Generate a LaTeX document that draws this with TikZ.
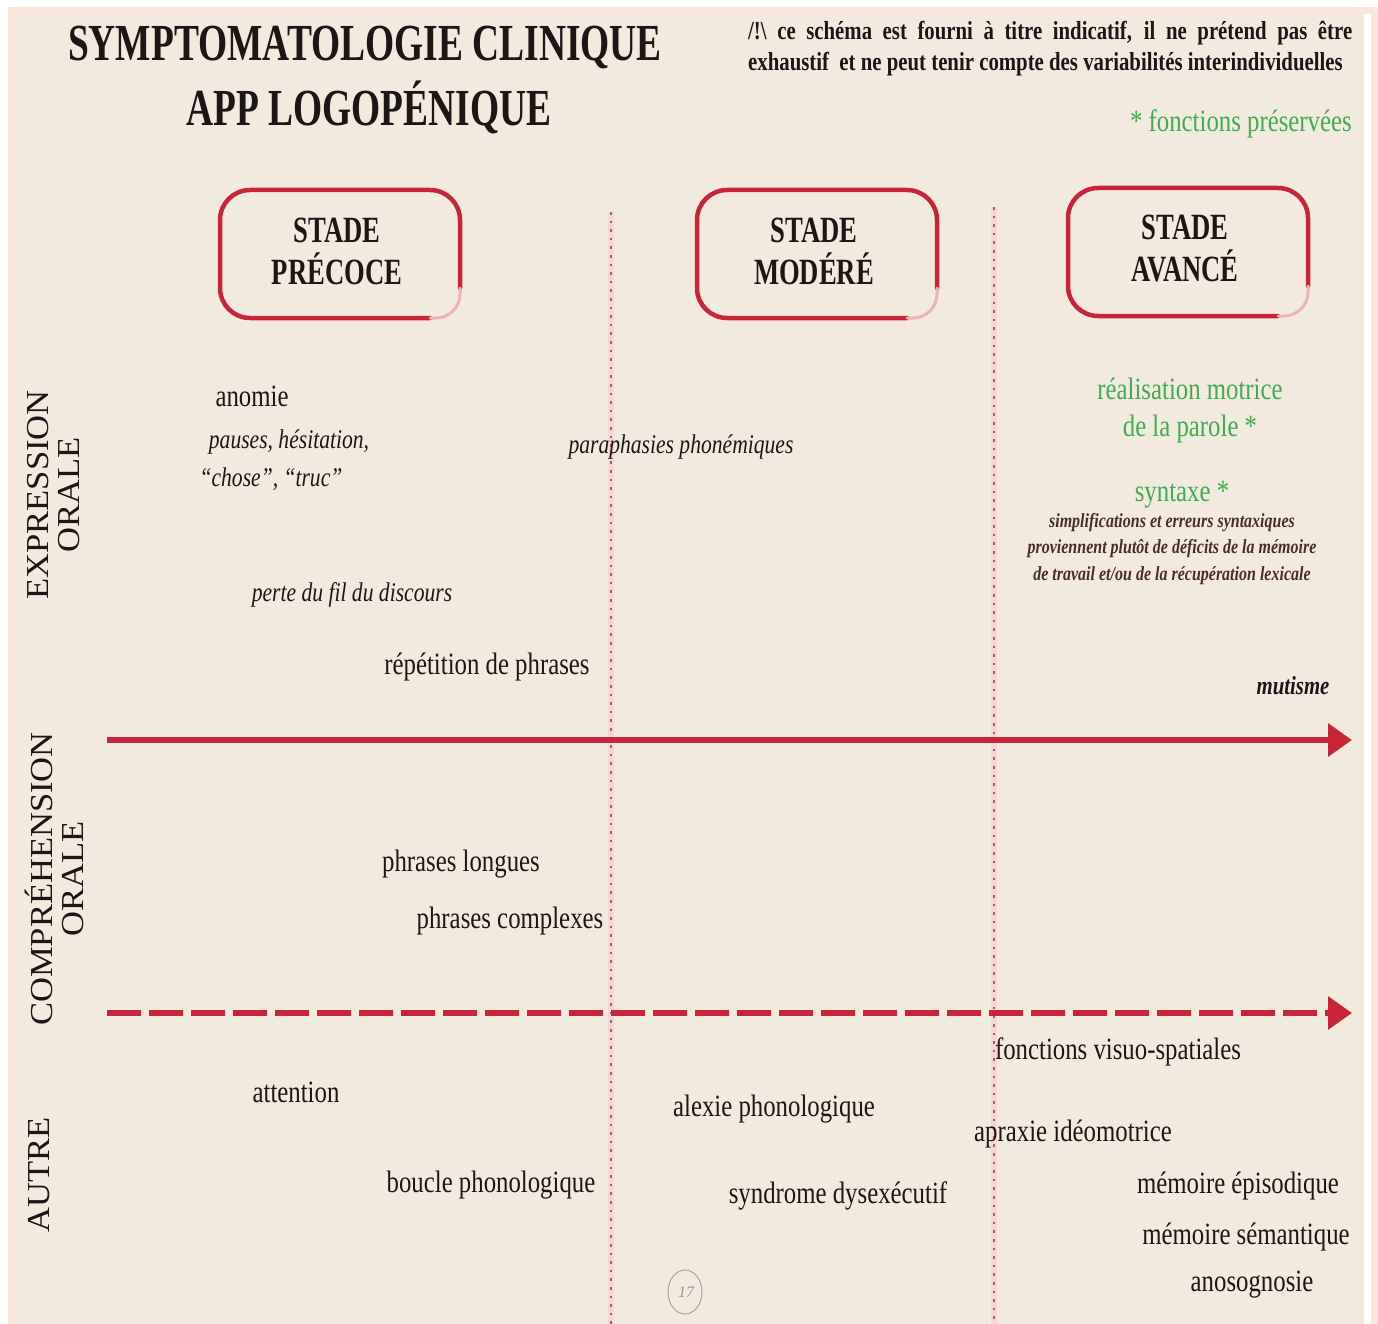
\documentclass[tikz,border=0pt]{standalone}
\usepackage{fontspec}
\setmainfont{Liberation Serif}
\newfontfamily\headfont{Liberation Serif}[FakeStretch=0.72]
\newfontfamily\bodyfont{Liberation Serif}[FakeStretch=0.8]
\newfontfamily\sidefont{Liberation Serif}[FakeStretch=1.08]
\usetikzlibrary{arrows.meta}

\definecolor{pagebeige}{RGB}{243,234,223}
\definecolor{edgepeach}{RGB}{252,230,219}
\definecolor{stagered}{RGB}{200,38,56}
\definecolor{ink}{RGB}{28,22,22}
\definecolor{keepgreen}{RGB}{64,172,82}
\definecolor{notebrown}{RGB}{72,46,32}
\definecolor{dotgrey}{RGB}{140,105,110}
\definecolor{dothalo}{RGB}{248,214,212}

\tikzset{
  lbl/.style={inner sep=0pt, text=ink},
  body/.style={lbl, font=\bodyfont\fontsize{31}{36}\selectfont},
  bodyit/.style={lbl, font=\bodyfont\itshape\fontsize{27}{36}\selectfont},
  keep/.style={lbl, text=keepgreen, font=\bodyfont\fontsize{31}{37}\selectfont, align=center},
  sidelbl/.style={lbl, rotate=90, align=center, font=\sidefont\fontsize{32}{31}\selectfont},
  stagetxt/.style={lbl, align=center, font=\headfont\bfseries\fontsize{37}{42}\selectfont},
  stagebox/.style={draw=stagered, line width=4.5pt, line cap=round, rounded corners=30pt},
  stagefade/.style={draw=stagered!35, line width=3pt, line cap=round, rounded corners=24pt},
  divider/.style={dotgrey, line width=2.6pt, dash pattern=on 2.6pt off 6pt},
  dividerhalo/.style={dothalo, line width=6pt},
  axis/.style={stagered, line width=6pt, -{Triangle[length=24pt,width=32pt]}},
}

\begin{document}
\begin{tikzpicture}[x=1pt,y=-1pt]
% page and frame
\fill[edgepeach] (0,0) rectangle (1378,1324);
\fill[white] (0,0) rectangle (1378,7);
\fill[white] (0,0) rectangle (8,1324);
\fill[white] (1364,14) rectangle (1371,1324);
\fill[pagebeige] (14,14) rectangle (1364,1324);
\useasboundingbox (0,0) rectangle (1378,1324);

% title and notes
\node[lbl, font=\headfont\bfseries\fontsize{52}{60}\selectfont] (title1) at (365,48) {SYMPTOMATOLOGIE CLINIQUE};
\node[lbl, font=\headfont\bfseries\fontsize{52}{60}\selectfont] (title2) at (369,107) {APP LOGOPÉNIQUE};
\node[lbl, anchor=west, font=\bodyfont\bfseries\fontsize{26}{30}\selectfont] (note1) at (748,33)
  {\makebox[604pt][s]{/!\textbackslash{} ce schéma est fourni à titre indicatif, il ne prétend pas être}};
\node[lbl, anchor=west, font=\bodyfont\bfseries\fontsize{26}{30}\selectfont] (note2) at (748,64)
  {exhaustif\ \ et ne peut tenir compte des variabilités interindividuelles};
\node[keep, anchor=east, font=\bodyfont\fontsize{31}{34}\selectfont] (legend) at (1352,124) {* fonctions préservées};

% stage boxes
\draw[stagebox] (430,318) -- (220,318) -- (220,190) -- (460,190) -- (460,288);
\draw[stagefade] (460,288) -- (460,318) -- (430,318);
\node[stagetxt] (s1) at (337,251) {STADE\\PRÉCOCE};
\draw[stagebox] (907,318) -- (697,318) -- (697,190) -- (937,190) -- (937,288);
\draw[stagefade] (937,288) -- (937,318) -- (907,318);
\node[stagetxt] (s2) at (814,251) {STADE\\MODÉRÉ};
\draw[stagebox] (1278,316) -- (1068,316) -- (1068,188) -- (1308,188) -- (1308,286);
\draw[stagefade] (1308,286) -- (1308,316) -- (1278,316);
\node[stagetxt] (s3) at (1185,249) {STADE\\AVANCÉ};

% dotted stage dividers
\coordinate (d1top) at (611,212); \coordinate (d1bot) at (611,1324);
\coordinate (d2top) at (994,207); \coordinate (d2bot) at (994,1324);
\draw[dividerhalo] (d1top) -- (d1bot);
\draw[dividerhalo] (d2top) -- (d2bot);
\draw[divider] (d1top) -- (d1bot);
\draw[divider] (d2top) -- (d2bot);

% domain separators
\coordinate (a1s) at (107,740); \coordinate (a1e) at (1352,740);
\coordinate (a2s) at (107,1013); \coordinate (a2e) at (1352,1013);
\draw[axis] (a1s) -- (a1e);
\draw[axis, dash pattern=on 34pt off 8pt] (a2s) -- (a2e);

% side labels
\node[sidelbl] (expr) at (54,495) {EXPRESSION\\ORALE};
\node[sidelbl] (comp) at (54,879) {COMPRÉHENSION\\ORALE};
\node[sidelbl] (autre) at (39,1175) {AUTRE};

% expression orale
\node[body] (anomie) at (252,396) {anomie};
\node[bodyit] (pauses) at (289,442) {pauses, hésitation,};
\node[bodyit] (chose) at (271,479) {“chose”, “truc”};
\node[bodyit] (parapha) at (681,447) {paraphasies phonémiques};
\node[bodyit] (perte) at (352,595) {perte du fil du discours};
\node[body] (repet) at (487,667) {répétition de phrases};
\node[keep] (motrice) at (1190,411) {réalisation motrice\\de la parole *};
\node[keep] (syntaxe) at (1182,495) {syntaxe *};
\node[lbl, text=notebrown, align=center, font=\bodyfont\bfseries\itshape\fontsize{20}{26.5}\selectfont] (synnote) at (1172,549)
  {simplifications et erreurs syntaxiques\\proviennent plutôt de déficits de la mémoire\\de travail et/ou de la récupération lexicale};
\node[lbl, font=\bodyfont\bfseries\itshape\fontsize{26}{30}\selectfont] (mutisme) at (1293,686) {mutisme};

% comprehension orale
\node[body] (longues) at (461,864) {phrases longues};
\node[body] (complexes) at (510,921) {phrases complexes};

% autre
\node[body] (visuo) at (1118,1052) {fonctions visuo-spatiales};
\node[body] (attention) at (296,1092) {attention};
\node[body] (alexie) at (774,1109) {alexie phonologique};
\node[body] (apraxie) at (1073,1134) {apraxie idéomotrice};
\node[body] (boucle) at (491,1185) {boucle phonologique};
\node[body] (dysexec) at (838,1196) {syndrome dysexécutif};
\node[body] (episod) at (1238,1186) {mémoire épisodique};
\node[body] (semant) at (1246,1237) {mémoire sémantique};
\node[body] (anosog) at (1252,1285) {anosognosie};

% pencilled page number
\draw[gray!70, line width=1pt] (685,1292) ellipse [x radius=17pt, y radius=22pt];
\node[lbl, text=gray!80, font=\itshape\fontsize{16}{18}\selectfont] (pagenum) at (686,1292) {17};
\end{tikzpicture}
\end{document}
